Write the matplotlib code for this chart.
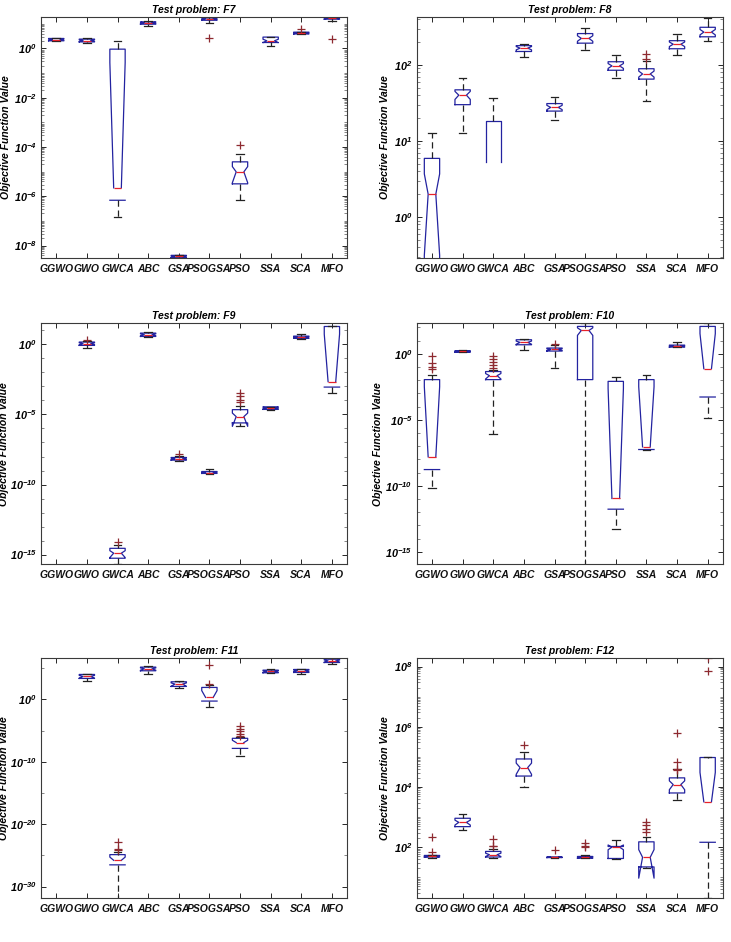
import matplotlib
matplotlib.use('Agg')
import matplotlib.pyplot as plt
from matplotlib.ticker import FixedLocator, FuncFormatter, NullLocator, NullFormatter
import numpy as np

plt.rcParams['font.family'] = ['Liberation Sans', 'DejaVu Sans']
plt.rcParams['font.weight'] = 'bold'
plt.rcParams['font.style'] = 'italic'
plt.rcParams['mathtext.fontset'] = 'custom'
for k in ['rm', 'it', 'bf', 'sf']:
    plt.rcParams['mathtext.' + k] = 'Liberation Sans:italic:bold'

names = ['GGWO', 'GWO', 'GWCA', 'ABC', 'GSA', 'PSOGSA', 'PSO', 'SSA', 'SCA', 'MFO']

# F7
f7_q1 = [2.05, 1.85, 6.9e-7, 9.7, 3.2e-9, 14, 3.2e-6, 1.75, 3.9, 15.5]
f7_med = [2.3, 2.1, 2.2e-6, 11, 3.6e-9, 16, 9.8e-6, 2.05, 4.2, 17]
f7_q3 = [2.55, 2.4, 0.94, 12, 4.0e-9, 17.4, 2.5e-5, 2.9, 4.6, 19]
f7_lo = [1.95, 1.6, 1.4e-7, 8.0, 3.1e-9, 11, 7e-7, 1.3, 3.8, 13]
f7_hi = [2.7, 2.6, 2.0, 13, 4.2e-9, 19, 5e-5, 3.0, 4.8, 19]
f7_out = [[], [], [], [], [], [2.7], [1.2e-4], [], [6.3], [2.4]]

# F8
f8_q1 = [0.02, 30, 0, 150, 24.7, 193, 85, 65, 163, 234]
f8_med = [2.0, 40, 0, 166, 27.6, 223, 97, 76, 187, 270]
f8_q3 = [5.9, 47, 18.5, 179, 31, 258, 110, 89, 208, 312]
f8_lo = [0.001, 12.6, 0, 126, 18.8, 155, 67, 33.6, 134, 205]
f8_hi = [12.8, 68, 37, 190, 38, 308, 134, 113, 256, 415]
f8_out = [[], [], [], [], [], [], [], [138, 121], [], []]

# F9
f9_q1 = [0, 0.85, 5.5e-16, 3.7, 5.5e-9, 6.2e-10, 2.5e-6, 2.3e-5, 2.7, 9e-4]
f9_med = [0, 1.12, 1.26e-15, 4.9, 6.8e-9, 7.2e-10, 7e-6, 2.9e-5, 3.2, 2.2e-3]
f9_q3 = [0, 1.47, 2.8e-15, 6.4, 8.5e-9, 8.5e-10, 2.2e-5, 3.5e-5, 3.9, 19]
f9_lo = [0, 0.58, 2e-16, 3.2, 4.9e-9, 5.5e-10, 1.45e-6, 2.2e-5, 2.6, 3.6e-4]
f9_hi = [0, 1.8, 4.9e-15, 7.5, 1.1e-8, 1.26e-9, 3.9e-5, 3.6e-5, 5.5, 22]
f9_out = [[], [2.2], [7.6e-15], [], [1.4e-8], [], [3.2e-4, 2e-4, 1e-4, 7.4e-5], [], [], []]

# F10
f10_q1 = [1.7e-9, 1.3, 0.011, 4.8, 1.6, 0.011, 1.7e-12, 5.6e-8, 3.2, 5.3e-4]
f10_med = [1.55e-8, 1.5, 0.022, 7.2, 2.1, 58, 1.1e-11, 8.9e-8, 3.8, 0.074]
f10_q3 = [0.011, 1.7, 0.045, 11.5, 2.7, 117, 8.1e-3, 0.011, 4.5, 117]
f10_lo = [6.3e-11, 1.25, 9e-7, 1.8, 0.087, 1e-17, 5.6e-14, 5e-8, 3.0, 1.45e-5]
f10_hi = [0.023, 1.8, 0.06, 13.6, 4.3, 209, 0.017, 0.023, 7.2, 209]
f10_out = [[0.63, 0.2, 0.1, 0.07], [], [0.66, 0.37, 0.22, 0.13, 0.083], [], [5.7], [], [], [], [], []]

# F11
f11_q1 = [0, 2.3e3, 3e-27, 3.9e4, 120, 0.54, 1.4e-8, 1.85e4, 2.1e4, 8.3e5]
f11_med = [0, 4.8e3, 1.6e-26, 8e4, 285, 2.1, 1.2e-7, 3e4, 3.9e4, 1.5e6]
f11_q3 = [0, 1e4, 1.3e-25, 1.5e5, 670, 83, 5.8e-7, 4.9e4, 6.3e4, 2.8e6]
f11_lo = [0, 970, 1e-33, 1.3e4, 57, 0.052, 8.5e-10, 1.45e4, 1.3e4, 4e5]
f11_hi = [0, 1.1e4, 3e-25, 2.1e5, 970, 174, 1e-6, 9e4, 8e4, 4.7e6]
f11_out = [[], [], [1.3e-23, 1e-24, 6e-25], [], [], [2.8e5, 290],
           [5.4e-5, 2e-5, 7.6e-6, 2.8e-6, 1.35e-6], [], [], [7e6]]

# F12
f12_q1 = [47, 480, 47, 2.3e4, 45, 43, 42, 22, 6.3e3, 145]
f12_med = [49, 665, 56, 4.4e4, 46, 46, 100, 46, 1.2e4, 3.2e3]
f12_q3 = [53, 910, 72, 8.5e4, 47, 49, 105, 150, 2.0e4, 9.5e4]
f12_lo = [44, 370, 45, 1e4, 45, 42, 40, 21, 3.8e3, 2.1]
f12_hi = [56, 1230, 86, 1.5e5, 47, 55, 175, 224, 3.8e4, 1e5]
f12_out = [[224, 69], [], [193, 113, 105], [2.5e5], [78], [135, 110, 100], [],
           [690, 530, 400, 320], [6e5, 6.5e4, 4e4, 3.6e4], [7e7, 1.9e8]]

panels = [
    ('F7', f7_q1, f7_med, f7_q3, f7_lo, f7_hi, f7_out, (-8.51, 1.28), [-8, -6, -4, -2, 0], 'sub'),
    ('F8', f8_q1, f8_med, f8_q3, f8_lo, f8_hi, f8_out, (-0.54, 2.63), [0, 1, 2], 'sub'),
    ('F9', f9_q1, f9_med, f9_q3, f9_lo, f9_hi, f9_out, (-15.69, 1.52), [-15, -10, -5, 0], 1),
    ('F10', f10_q1, f10_med, f10_q3, f10_lo, f10_hi, f10_out, (-15.94, 2.32), [-15, -10, -5, 0], 1),
    ('F11', f11_q1, f11_med, f11_q3, f11_lo, f11_hi, f11_out, (-31.84, 6.67), [-30, -20, -10, 0], 5),
    ('F12', f12_q1, f12_med, f12_q3, f12_lo, f12_hi, f12_out, (0.31, 8.29), [2, 4, 6, 8], 'sub'),
]

rects = [[0.056, 0.726, 0.419, 0.256], [0.570, 0.726, 0.419, 0.256],
         [0.056, 0.401, 0.419, 0.256], [0.570, 0.401, 0.419, 0.256],
         [0.056, 0.0467, 0.419, 0.255], [0.570, 0.0467, 0.419, 0.255]]
label_x = [-0.098, -0.088, -0.104, -0.11, -0.104, -0.088]

fig = plt.figure(figsize=(7.31, 9.42), dpi=100)

for i, (name, q1, med, q3, lo, hi, out, ylim, majors, minor) in enumerate(panels):
    ax = fig.add_axes(rects[i])
    ax.set_yscale('log', nonpositive='mask')
    stats = []
    for j in range(len(names)):
        # MATLAB-style notch: med +- 1.57*IQR/sqrt(n), n = 30 runs
        half = 1.57 * (q3[j] - q1[j]) / np.sqrt(30)
        stats.append(dict(label=names[j], med=med[j], q1=q1[j], q3=q3[j],
                          whislo=lo[j], whishi=hi[j], fliers=out[j],
                          cilo=med[j] - half, cihi=med[j] + half))
    ax.bxp(stats, positions=range(1, 11), widths=0.5, shownotches=True,
           boxprops=dict(color='#2323a0', linewidth=0.9),
           medianprops=dict(color='#e8222a', linewidth=0.9),
           whiskerprops=dict(color='#222222', linewidth=0.9, linestyle=(0, (5, 3))),
           capprops=dict(color='#222222', linewidth=0.9),
           flierprops=dict(marker='+', markeredgecolor='#8e2a30', markersize=6,
                           markeredgewidth=0.9, linestyle='none'))
    ax.set_xlim(0.5, 10.5)
    ax.set_ylim(10.0 ** ylim[0], 10.0 ** ylim[1])
    ax.set_xticks(range(1, 11))
    ax.set_xticklabels(names, fontsize=7.5, fontweight='bold', fontstyle='italic')
    ax.yaxis.set_major_locator(FixedLocator([10.0 ** m for m in majors]))
    ax.yaxis.set_major_formatter(FuncFormatter(lambda v, p: r'$10^{%d}$' % round(np.log10(v))))
    lo_dec = int(np.floor(ylim[0])) - 1
    hi_dec = int(np.ceil(ylim[1])) + 1
    if minor == 'sub':
        mins = [s * 10.0 ** d for d in range(lo_dec, hi_dec) for s in range(2, 10)]
        mins += [10.0 ** d for d in range(lo_dec, hi_dec) if d not in majors]
    else:
        mins = [10.0 ** d for d in range(lo_dec, hi_dec) if d % minor == 0 and d not in majors]
    ax.yaxis.set_minor_locator(FixedLocator(mins))
    ax.yaxis.set_minor_formatter(NullFormatter())
    ax.xaxis.set_minor_locator(NullLocator())
    ax.tick_params(axis='y', which='major', direction='in', length=3.5, width=0.7,
                   left=True, right=True, labelsize=7.8, pad=3, colors='#262626')
    ax.tick_params(axis='y', which='minor', direction='in', length=2, width=0.5,
                   left=True, right=True, colors='#555555')
    ax.tick_params(axis='x', which='major', direction='in', length=3.5, width=0.7,
                   top=True, bottom=True, pad=4, colors='#262626')
    for lab in ax.get_yticklabels():
        lab.set_color('black')
    for lab in ax.get_xticklabels():
        lab.set_color('#111111')
    for sp in ax.spines.values():
        sp.set_color('#3a3a3a')
        sp.set_linewidth(0.8)
    ax.set_title('Test problem: ' + name, fontsize=7.5, fontweight='bold',
                 fontstyle='italic', pad=3)
    ax.set_ylabel('Objective Function Value', fontsize=7.5, fontweight='bold',
                  fontstyle='italic')
    ax.yaxis.set_label_coords(label_x[i], 0.5)

fig.savefig('out.png', dpi=100)
